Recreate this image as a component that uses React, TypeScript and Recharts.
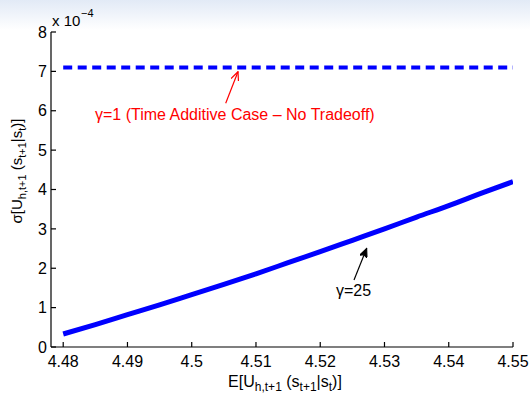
import { LineChart, Line, XAxis, YAxis } from 'recharts';

// x axis (expected utility) ticks and limits
const xTicks = [4.48, 4.49, 4.5, 4.51, 4.52, 4.53, 4.54, 4.55];
const xDomain = [4.4781, 4.55];

// y axis in units of 1e-4
const yTicks = [0, 1, 2, 3, 4, 5, 6, 7, 8];
const yDomain = [0, 8];

// gamma = 1 : time additive case (flat)
const gammaOneX = [4.48, 4.55];
const gammaOneY = [7.1, 7.1];

// gamma = 25 frontier
const gamma25X = [4.48, 4.485, 4.49, 4.495, 4.5, 4.505, 4.51, 4.515, 4.52, 4.525, 4.53, 4.535, 4.54, 4.545, 4.55];
const gamma25Y = [0.33, 0.57, 0.82, 1.07, 1.33, 1.59, 1.86, 2.14, 2.42, 2.71, 3.0, 3.3, 3.59, 3.9, 4.2];

const gammaOneData = gammaOneX.map((x, i) => ({ x, y: gammaOneY[i] }));
const gamma25Data = gamma25X.map((x, i) => ({ x, y: gamma25Y[i] }));

const FONT = '"Liberation Sans", Arial, sans-serif';
const tickStyle = { fontSize: 16, fill: '#000', fontFamily: FONT };
const axisStroke = { stroke: '#000', strokeWidth: 1.2 };

const fmtX = (v: number) => String(Number(v.toFixed(2)));

export default function App() {
	return (
		<div
			style={{
				position: 'absolute',
				left: 0,
				top: 0,
				width: 530,
				height: 393,
				background: 'linear-gradient(#e2eaf6 0px, #ffffff 30px)',
			}}
		>
			<LineChart width={530} height={393} margin={{ top: 32, right: 17, bottom: 0, left: 0 }}>
				<defs>
					<marker id="headRed" markerWidth="10" markerHeight="8" refX="9" refY="4" orient="auto" markerUnits="userSpaceOnUse">
						<path d="M0,0 L9,4 L0,8" fill="none" stroke="#ff0000" strokeWidth={1.2} />
					</marker>
					<marker id="headBlack" markerWidth="10" markerHeight="8" refX="9" refY="4" orient="auto" markerUnits="userSpaceOnUse">
						<path d="M0,0 L9,4 L0,8 L2,4 Z" fill="#000" stroke="#000" strokeWidth={1} />
					</marker>
				</defs>
				<XAxis
					dataKey="x"
					type="number"
					domain={xDomain}
					ticks={xTicks}
					tickFormatter={fmtX}
					allowDataOverflow
					height={46}
					tickSize={-5}
					tickMargin={14}
					tick={tickStyle}
					axisLine={axisStroke}
					tickLine={axisStroke}
				/>
				<XAxis
					xAxisId="top"
					orientation="top"
					type="number"
					domain={xDomain}
					ticks={xTicks}
					allowDataOverflow
					height={0}
					tickSize={-5}
					tick={false}
					axisLine={axisStroke}
					tickLine={axisStroke}
				/>
				<YAxis
					type="number"
					domain={yDomain}
					ticks={yTicks}
					width={51}
					tickSize={-5}
					tickMargin={9}
					tick={tickStyle}
					axisLine={axisStroke}
					tickLine={axisStroke}
				/>
				<YAxis
					yAxisId="right"
					orientation="right"
					type="number"
					domain={yDomain}
					ticks={yTicks}
					width={0}
					tickSize={-5}
					tick={false}
					axisLine={axisStroke}
					tickLine={axisStroke}
				/>
				<Line
					data={gammaOneData}
					dataKey="y"
					type="linear"
					stroke="#0000ff"
					strokeWidth={4}
					strokeDasharray="9 5.5"
					dot={false}
					activeDot={false}
					isAnimationActive={false}
				/>
				<Line
					data={gamma25Data}
					dataKey="y"
					type="monotone"
					stroke="#0000ff"
					strokeWidth={5}
					dot={false}
					activeDot={false}
					isAnimationActive={false}
				/>

				{/* exponent */}
				<text x={52} y={26} fontFamily={FONT} fontSize={15} fill="#000">x 10</text>
				<text x={81} y={17} fontFamily={FONT} fontSize={11} fill="#000">−4</text>

				{/* annotations */}
				<line x1={225.7} y1={103.3} x2={238} y2={71.7} stroke="#ff0000" strokeWidth={1.2} markerEnd="url(#headRed)" />
				<text x={95} y={120} fontFamily={FONT} fontSize={16} fill="#ff0000">γ=1 (Time Additive Case – No Tradeoff)</text>
				<line x1={354} y1={280} x2={366.7} y2={248.3} stroke="#000" strokeWidth={1.2} markerEnd="url(#headBlack)" />
				<text x={336} y={296} fontFamily={FONT} fontSize={16} fill="#000">γ=25</text>

				{/* axis labels */}
				<text x={285} y={387} textAnchor="middle" fontFamily={FONT} fontSize={16} fill="#000">
					E[U<tspan fontSize={12} dy={4}>h,t+1</tspan>
					<tspan dy={-4}> (s</tspan><tspan fontSize={12} dy={4}>t+1</tspan>
					<tspan dy={-4}>|s</tspan><tspan fontSize={12} dy={4}>t</tspan>
					<tspan dy={-4}>)]</tspan>
				</text>
				<text x={22} y={171} transform="rotate(-90, 22, 171)" textAnchor="middle" fontFamily={FONT} fontSize={15} fill="#000">
					σ[U<tspan fontSize={11} dy={4}>h,t+1</tspan>
					<tspan dy={-4}> (s</tspan><tspan fontSize={11} dy={4}>t+1</tspan>
					<tspan dy={-4}>|s</tspan><tspan fontSize={11} dy={4}>t</tspan>
					<tspan dy={-4}>)]</tspan>
				</text>
			</LineChart>
		</div>
	);
}
